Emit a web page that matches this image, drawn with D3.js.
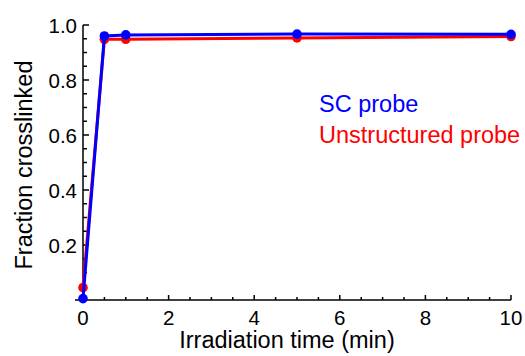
<!DOCTYPE html>
<html>
<head>
<meta charset="utf-8">
<script src="https://cdn.jsdelivr.net/npm/d3@7"></script>
<style>
  body { margin: 0; background: #fff; }
  svg { font-family: "Liberation Sans", Arial, sans-serif; }
  .axis path, .axis line { stroke: #000; stroke-width: 1.5; }
  .axis text { font-size: 20.5px; fill: #000; }
  .axislabel { font-size: 23.5px; fill: #000; }
  .legend { font-size: 23.5px; }
</style>
</head>
<body>
<svg id="chart" width="525" height="356"></svg>
<script>
const times = [0, 0.5, 1, 5, 10];
const scProbe = [0.005, 0.96, 0.964, 0.967, 0.966];
const unstructuredProbe = [0.045, 0.948, 0.948, 0.953, 0.958];
const xTicks = [0, 2, 4, 6, 8, 10];
const yTicks = [0.2, 0.4, 0.6, 0.8, 1.0];

const svg = d3.select("#chart");
const xScale = d3.scaleLinear().domain([0, 10]).range([83, 511]);
const yScale = d3.scaleLinear().domain([0, 1]).range([300, 25]);

// x axis: major ticks every 2, minor every 0.5, pointing inward
const gx = svg.append("g").attr("class", "axis").attr("transform", "translate(0,300)");
gx.append("line").attr("x1", 75).attr("x2", xScale(10)).attr("y1", 0).attr("y2", 0);
gx.selectAll(".minor").data(d3.range(0, 10.01, 0.5)).enter().append("line")
  .attr("x1", d => xScale(d)).attr("x2", d => xScale(d))
  .attr("y1", 0).attr("y2", d => d % 2 === 0 ? -5 : -3);
gx.selectAll("text").data(xTicks).enter().append("text")
  .attr("x", d => xScale(d)).attr("y", 25).attr("text-anchor", "middle").text(d => d);

// y axis
const gy = svg.append("g").attr("class", "axis").attr("transform", "translate(83,0)");
gy.append("line").attr("x1", 0).attr("x2", 0).attr("y1", yScale(1)).attr("y2", 300);
gy.selectAll(".minor").data(d3.range(0.05, 1.001, 0.05)).enter().append("line")
  .attr("x1", 0).attr("x2", (d, i) => (i + 1) % 4 === 0 ? 6 : 4)
  .attr("y1", d => yScale(d)).attr("y2", d => yScale(d));
gy.selectAll("text").data(yTicks).enter().append("text")
  .attr("x", -6).attr("y", d => yScale(d) + 7.5).attr("text-anchor", "end")
  .text(d => d.toFixed(1));

svg.append("text").attr("class", "axislabel").attr("x", 287).attr("y", 348)
  .attr("text-anchor", "middle").text("Irradiation time (min)");
svg.append("text").attr("class", "axislabel")
  .attr("transform", "translate(32,165) rotate(-90)")
  .attr("text-anchor", "middle").text("Fraction crosslinked");

const line = d3.line().x(d => xScale(d[0])).y(d => yScale(d[1]));

function drawSeries(values, color) {
  const pts = times.map((t, i) => [t, values[i]]);
  svg.append("path").attr("d", line(pts)).attr("fill", "none")
    .attr("stroke", color).attr("stroke-width", 3);
  svg.append("g").selectAll("circle").data(pts).enter().append("circle")
    .attr("cx", d => xScale(d[0])).attr("cy", d => yScale(d[1]))
    .attr("r", 4.8).attr("fill", color);
}
drawSeries(unstructuredProbe, "#ff0000");
drawSeries(scProbe, "#0000ff");

svg.append("text").attr("class", "legend").attr("x", 319).attr("y", 112)
  .attr("fill", "#0000ff").text("SC probe");
svg.append("text").attr("class", "legend").attr("x", 319).attr("y", 143)
  .attr("fill", "#ff0000").text("Unstructured probe");
</script>
</body>
</html>
